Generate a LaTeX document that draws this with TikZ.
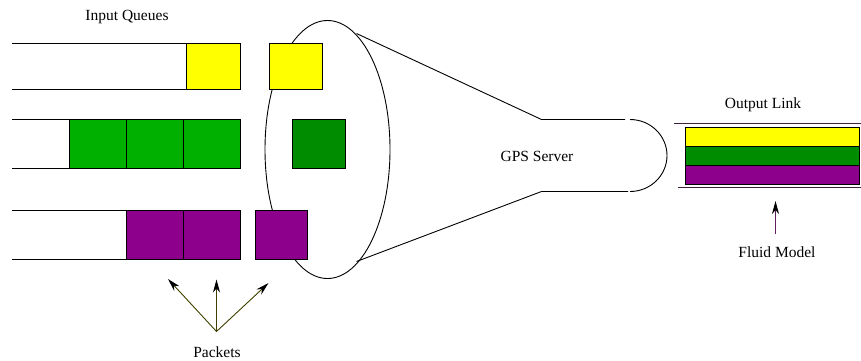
\documentclass[tikz,border=0pt]{standalone}
\usepackage{fontspec}
\setmainfont{Liberation Serif}
\usetikzlibrary{arrows.meta}
\definecolor{qyellow}{HTML}{FFFF00}
\definecolor{qgreen}{HTML}{00B000}
\definecolor{dgreen}{HTML}{008C00}
\definecolor{qpurple}{HTML}{8C008C}
\definecolor{olivel}{HTML}{404000}
\definecolor{linkpurple}{HTML}{402040}
\definecolor{arrpurple}{HTML}{602060}
\tikzset{
  pkt/.style={draw=black, line width=0.9pt},
  qline/.style={draw=black, line width=0.9pt},
  lbl/.style={font=\fontsize{15.5}{18}\selectfont, inner sep=0pt},
  ptr/.style={line width=0.9pt, -{Stealth[length=13pt,width=7pt,inset=4pt,color=black]}},
}
\begin{document}
\begin{tikzpicture}[x=1pt,y=-1pt]
\useasboundingbox (0,0) rectangle (861,360);
% labels
\node[lbl] (iq) at (127,17) {Input Queues};
\node[lbl] (gps) at (537,156) {GPS Server};
\node[lbl] (ol) at (763,105) {Output Link};
\node[lbl] (fm) at (777,252) {Fluid Model};
\node[lbl] (pk) at (217,352) {Packets};
% server funnel
\draw[line width=0.9pt] (327.5,149.5) ellipse[x radius=62.5, y radius=129];
\draw[line width=0.9pt] (356.5,33.5) -- (541.5,119.5) -- (625,119.5);
\draw[line width=0.9pt] (356.5,261.5) -- (541.5,191.5) -- (628,191.5);
\draw[line width=0.9pt] (630,119.5) arc[start angle=-90, end angle=90, x radius=37, y radius=36];
% queue 1
\draw[qline] (12,43.5) -- (240,43.5);
\draw[qline] (12,89) -- (240,89);
\draw[pkt, fill=qyellow] (186,43.5) rectangle (240,89);
% queue 2
\draw[qline] (12,119) -- (240,119);
\draw[qline] (12,168) -- (240,168);
\draw[pkt, fill=qgreen] (69,119) rectangle (126,168);
\draw[pkt, fill=qgreen] (126,119) rectangle (183,168);
\draw[pkt, fill=qgreen] (183,119) rectangle (240,168);
% queue 3
\draw[qline] (12,210) -- (240,210);
\draw[qline] (12,259) -- (240,259);
\draw[pkt, fill=qpurple] (126,210) rectangle (183,259);
\draw[pkt, fill=qpurple] (183,210) rectangle (240,259);
% packets in service
\draw[pkt, fill=qyellow] (269.5,43.5) rectangle (322.5,89.5);
\draw[pkt, fill=dgreen] (292,119) rectangle (345,168);
\draw[pkt, fill=qpurple] (255,210) rectangle (307.5,259.5);
% output link
\draw[linkpurple, line width=0.9pt] (674,123.5) -- (861,123.5);
\draw[linkpurple, line width=0.9pt] (678,187.5) -- (861,187.5);
\draw[pkt, fill=qyellow] (685.5,127.5) rectangle (859.5,146);
\draw[pkt, fill=dgreen] (685.5,146) rectangle (859.5,165);
\draw[pkt, fill=qpurple] (685.5,165) rectangle (859.5,184);
% arrows
\coordinate (pb) at (216.5,331.5);
\coordinate (fmb) at (775.5,234);
\coordinate (t1) at (168,279);
\coordinate (t2) at (216.5,279.5);
\coordinate (t3) at (268.5,283);
\coordinate (t4) at (775.5,201);
\draw[ptr, olivel] (pb) -- (t1);
\draw[ptr, olivel] (pb) -- (t2);
\draw[ptr, olivel] (pb) -- (t3);
\draw[ptr, arrpurple] (fmb) -- (t4);
\end{tikzpicture}
\end{document}
